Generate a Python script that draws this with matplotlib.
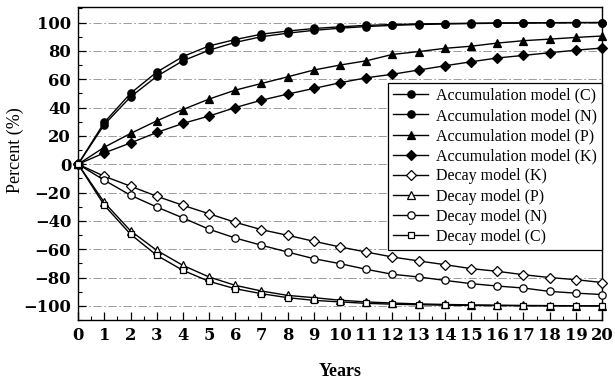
import matplotlib
matplotlib.use("Agg")
import matplotlib.pyplot as plt
from matplotlib.ticker import MultipleLocator

plt.rcParams['font.family'] = ['Liberation Serif', 'DejaVu Serif']

years = list(range(21))

# accumulation curves (percent)
acc_c = [0, 29.5, 50, 65, 76, 83.5, 88, 91.8, 94, 95.8, 97, 98, 98.6, 99, 99.3, 99.5, 99.7, 99.8, 99.9, 100, 100]
acc_n = [0, 28, 47.5, 62, 73, 80.5, 86, 90, 92.5, 94.5, 96, 97.2, 98, 98.6, 99, 99.3, 99.5, 99.7, 99.8, 99.9, 100]
acc_p = [0, 12, 21.7, 30.6, 38.6, 46, 52.3, 57, 61.7, 66.5, 70, 73, 77.5, 79.5, 81.8, 83.3, 85.5, 87.2, 88.3, 89.5, 90.5]
acc_k = [0, 8, 15, 22.4, 28.8, 34, 40, 45.2, 49.5, 53.5, 57.5, 61, 63.5, 66.5, 69.5, 72.3, 75, 76.8, 78.7, 80.5, 82]

# decay curves (percent)
dec_k = [0, -8.5, -15.5, -22.6, -29, -35, -41, -46.2, -50.2, -54.4, -58.4, -62, -65.5, -68.3, -70.9, -73.7, -75.6, -78, -80, -81.5, -83.5]
dec_p = [0, -27, -47, -60.8, -71.4, -79.6, -85.5, -89.5, -92.6, -94.2, -96, -97.2, -98, -98.6, -99, -99.3, -99.5, -99.7, -99.8, -99.9, -100]
dec_n = [0, -11.3, -21.9, -30.2, -37.9, -45.9, -52.1, -57.2, -62, -66.7, -70.2, -74.2, -77.7, -79.6, -82, -84.3, -86, -87.4, -89.8, -91, -92]
dec_c = [0, -29, -49.4, -64.3, -74.9, -82.7, -87.9, -91.4, -94.2, -96.1, -97.2, -98.2, -98.8, -99.2, -99.5, -99.7, -99.8, -99.9, -100, -100, -100]

series = [
    (acc_c, 'o', 'black', 'Accumulation model (C)'),
    (acc_n, 'o', 'black', 'Accumulation model (N)'),
    (acc_p, '^', 'black', 'Accumulation model (P)'),
    (acc_k, 'D', 'black', 'Accumulation model (K)'),
    (dec_k, 'D', 'white', 'Decay model (K)'),
    (dec_p, '^', 'white', 'Decay model (P)'),
    (dec_n, 'o', 'white', 'Decay model (N)'),
    (dec_c, 's', 'white', 'Decay model (C)'),
]
msizes = {'o': 5.3, '^': 5.5, 'D': 4.6, 's': 4.8}

fig = plt.figure(figsize=(6.15, 3.87), dpi=100)
ax = fig.add_axes([0.127, 0.173, 0.852, 0.809])

for yv in range(-100, 101, 20):
    ax.axhline(yv, color='0.55', lw=0.6, ls=(0, (10, 3, 2, 3)), zorder=0)

for vals, mk, fc, lab in series:
    ax.plot(years, vals, color='black', lw=1.0, marker=mk, markersize=msizes[mk],
            markerfacecolor=fc, markeredgecolor='black', markeredgewidth=0.9,
            label=lab, clip_on=False, zorder=3)

ax.set_xlim(0, 20)
ax.set_ylim(-110, 111)
ax.xaxis.set_major_locator(MultipleLocator(1))
ax.xaxis.set_minor_locator(MultipleLocator(0.5))
ax.yaxis.set_major_locator(MultipleLocator(20))
ax.yaxis.set_minor_locator(MultipleLocator(10))
ax.tick_params(which='both', direction='in', top=False, right=False)
ax.tick_params(which='major', length=6, width=0.9, pad=5)
ax.tick_params(which='minor', length=3, width=0.8)
for t in ax.get_xticklabels() + ax.get_yticklabels():
    t.set_fontfamily('DejaVu Serif')
    t.set_fontweight('bold')
    t.set_fontsize(11.8)
for s in ax.spines.values():
    s.set_linewidth(1.0)

ax.set_xlabel('Years', fontsize=13, fontweight='bold')
ax.xaxis.set_label_coords(0.5, -0.137)
ax.set_ylabel('Percent (%)', fontsize=13)
ax.yaxis.set_label_coords(-0.103, 0.543)

leg = ax.legend(loc='upper right', bbox_to_anchor=(1.0, 0.757), borderaxespad=0,
                frameon=True, fancybox=False, edgecolor='black', framealpha=1,
                handlelength=2.2, handletextpad=0.5, borderpad=0.3,
                labelspacing=0.26, prop={'family': 'Liberation Serif', 'size': 11.5})
leg.get_frame().set_linewidth(0.9)
leg.set_zorder(5)

fig.savefig('out.png', dpi=100, facecolor='white')
